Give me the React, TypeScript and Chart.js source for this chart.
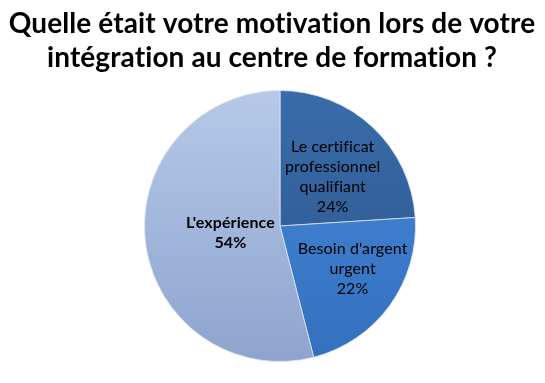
import React, { useEffect, useRef } from "react";
import { Chart, registerables } from "chart.js";

Chart.register(...registerables);

const titleLines = ["Quelle était votre motivation lors de votre", "intégration au centre de formation ?"];
const categories = ["Le certificat professionnel qualifiant", "Besoin d'argent urgent", "L'expérience"];
const labelLines = [["Le certificat", "professionnel", "qualifiant"], ["Besoin d'argent", "urgent"], ["L'expérience"]];
const values = [24, 22, 54];

const topColors = ["#3A6CAA", "#4689D8", "#B6C9E8"];
const bottomColors = ["#29548A", "#3370BE", "#8EA4CE"];
const labelRadius = [0.53, 0.62, 0.37];
const labelAngleShift = [0.07, -0.1, -0.02];
const labelBold = [false, false, true];

export default function App() {
  const ref = useRef<HTMLCanvasElement>(null);
  useEffect(() => {
    document.body.style.margin = "0";
    const canvas = ref.current!;
    const font = "Lato, 'Open Sans', sans-serif";
    const titlePlugin = {
      id: "titleDraw",
      afterDraw(chart: any) {
        const ctx = chart.ctx;
        ctx.save();
        ctx.fillStyle = "#000";
        ctx.font = `bold 28px ${font}`;
        (ctx as any).letterSpacing = "0.1px";
        ctx.textAlign = "center";
        ctx.textBaseline = "alphabetic";
        ctx.fillText(titleLines[0], 272, 33);
        ctx.fillText(titleLines[1], 272, 67);
        ctx.restore();
      },
    };
    const labelPlugin = {
      id: "sliceLabels",
      afterDatasetsDraw(chart: any) {
        const ctx = chart.ctx;
        const meta = chart.getDatasetMeta(0);
        meta.data.forEach((arc: any, i: number) => {
          const p = arc.getProps(["x", "y", "startAngle", "endAngle", "outerRadius"], true);
          const mid = (p.startAngle + p.endAngle) / 2 + labelAngleShift[i];
          const r = p.outerRadius * labelRadius[i];
          const cx = p.x + Math.cos(mid) * r;
          const cy = p.y + Math.sin(mid) * r;
          const lines = [...labelLines[i], values[i] + "%"];
          const lh = 20;
          ctx.save();
          ctx.fillStyle = "#000";
          ctx.font = `${labelBold[i] ? "bold " : ""}16px ${font}`;
          (ctx as any).letterSpacing = "0.1px";
          ctx.textAlign = "center";
          ctx.textBaseline = "middle";
          lines.forEach((t, k) => {
            ctx.fillText(t, cx, cy + (k - (lines.length - 1) / 2) * lh);
          });
          ctx.restore();
        });
      },
    };
    const grad = (ctx: any) => {
      const chart = ctx.chart;
      const ca = chart.chartArea;
      const i = ctx.dataIndex;
      if (!ca) return topColors[i];
      const g = chart.ctx.createLinearGradient(0, ca.top, 0, ca.bottom);
      g.addColorStop(0, topColors[i]);
      g.addColorStop(1, bottomColors[i]);
      return g;
    };
    const chart = new Chart(canvas, {
      type: "pie",
      data: {
        labels: categories,
        datasets: [
          {
            data: values,
            backgroundColor: grad as any,
            borderColor: "rgba(220,230,245,0.8)",
            borderWidth: 1,
          },
        ],
      },
      options: {
        responsive: false,
        animation: false,
        layout: { padding: { top: 90, bottom: 21, left: 100, right: 85 } },
        plugins: {
          legend: { display: false },
          title: { display: false },
          tooltip: { enabled: false },
        },
      },
      plugins: [titlePlugin, labelPlugin],
    });
    return () => chart.destroy();
  }, []);
  return (
    <div style={{ width: 545, height: 383, background: "#fff" }}>
      <canvas ref={ref} width={545} height={383} />
    </div>
  );
}
